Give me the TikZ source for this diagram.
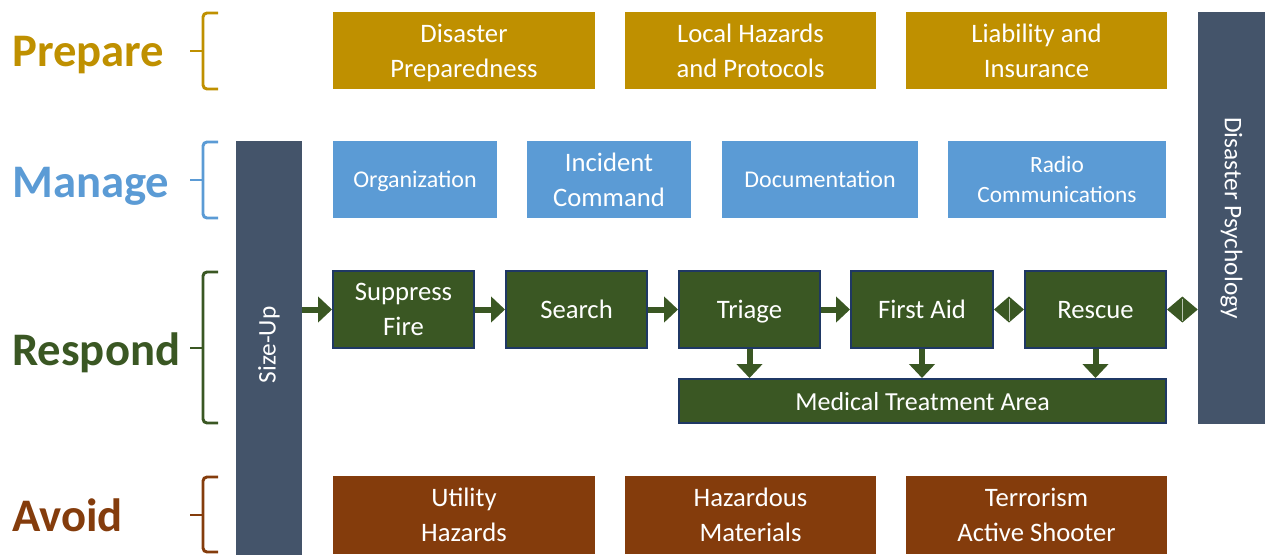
\documentclass[tikz,border=0pt]{standalone}
\usepackage{fontspec}
\setmainfont{Carlito}
\usetikzlibrary{arrows.meta,calc}
\definecolor{gold}{HTML}{BF9000}
\definecolor{skyb}{HTML}{5B9BD5}
\definecolor{dgreen}{HTML}{3A5723}
\definecolor{navyb}{HTML}{1F3864}
\definecolor{slate}{HTML}{44546A}
\definecolor{rust}{HTML}{843C0C}
\tikzset{
  box/.style 2 args={draw=none, text=white, align=center, inner sep=0pt,
    minimum width=#1*0.75pt, minimum height=#2*0.75pt, text depth=0pt,
    font=\fontsize{20}{26}\selectfont},
  gbox/.style 2 args={box={#1}{#2}, fill=dgreen, draw=navyb, line width=1.5pt},
  bar/.style 2 args={box={#1}{#2}, fill=slate, font=\fontsize{19}{24}\selectfont},
  lbl/.style={anchor=west, font=\fontsize{35}{40}\selectfont\bfseries, inner sep=0pt},
  brace/.style={line width=2.2pt, rounded corners=3pt},
  barrow/.style={draw=dgreen, line width=4.5pt,
    -{Triangle[length=10.5pt,width=19pt]}},
  dmd/.style={fill=dgreen},
  seam/.style={draw=white!65!dgreen, line width=0.5pt}
}
\begin{document}
\begin{tikzpicture}[x=0.75pt,y=-0.75pt]
\useasboundingbox (0,0) rectangle (1270,554);
\clip (0,0) rectangle (1270,554);

% Labels
\node[lbl, text=gold]  (lp) at (12,55.5)  {Prepare};
\node[lbl, text=skyb]  (lm) at (12,186) {Manage};
\node[lbl, text=dgreen](lr) at (12,353) {Respond};
\node[lbl, text=rust]  (la) at (12,515) {Avoid};

% Braces
\draw[brace, gold] (218,13) -- (203,13) -- (203,89) -- (218,89);
\draw[brace, gold] (203,51) -- (190,51);
\draw[brace, skyb] (218,142) -- (203,142) -- (203,218) -- (218,218);
\draw[brace, skyb] (203,180) -- (190,180);
\draw[brace, dgreen] (218,272) -- (203,272) -- (203,423) -- (218,423);
\draw[brace, dgreen] (203,348) -- (190,348);
\draw[brace, rust] (218,477) -- (203,477) -- (203,552) -- (218,552);
\draw[brace, rust] (203,515) -- (190,515);

% Side bars
\node[bar={66}{416}] (sz) at (269,349) {};
\node[rotate=90, text=white, font=\fontsize{19}{24}\selectfont] at (269,345) {Size-Up};
\node[bar={67}{412}] (dp) at (1231.5,218) {};
\node[rotate=-90, text=white, font=\fontsize{19}{24}\selectfont] at (1231.5,218) {Disaster Psychology};

% Prepare row
\node[box={262}{77}, fill=gold] (p1) at (464,50.5)    {Disaster\\Preparedness};
\node[box={251}{77}, fill=gold] (p2) at (750.5,50.5)  {Local Hazards\\and Protocols};
\node[box={261}{77}, fill=gold] (p3) at (1036.5,50.5) {Liability and\\Insurance};

% Manage row
\node[box={164}{77}, fill=skyb, font=\fontsize{18}{24}\selectfont] (m1) at (415,179.5)  {Organization};
\node[box={164}{77}, fill=skyb] (m2) at (609,179.5)  {Incident\\Command};
\node[box={196}{77}, fill=skyb, font=\fontsize{18}{24}\selectfont] (m3) at (820,179.5)  {Documentation};
\node[box={218}{77}, fill=skyb, font=\fontsize{17.5}{22}\selectfont] (m4) at (1057,179.5) {Radio\\Communications};

% Respond row
\node[gbox={141}{77}] (sf) at (403.5,309.5) {Suppress\\Fire};
\node[gbox={141}{77}] (se) at (576.5,309.5) {Search};
\node[gbox={141}{77}] (tr) at (749.5,309.5) {Triage};
\node[gbox={142}{77}] (fa) at (922,309.5)   {First Aid};
\node[gbox={141}{77}] (rs) at (1095.5,309.5){Rescue};
\node[gbox={487}{44}, font=\fontsize{19.5}{24}\selectfont] (mta) at (922.5,401) {Medical Treatment Area};

% Arrows
\draw[barrow] (sz.east |- sf.west) -- (sf.west);
\draw[barrow] (sf.east) -- (se.west);
\draw[barrow] (se.east) -- (tr.west);
\draw[barrow] (tr.east) -- (fa.west);
\draw[barrow] (tr.south) -- (tr.south |- mta.north);
\draw[barrow] (fa.south) -- (fa.south |- mta.north);
\draw[barrow] (rs.south) -- (rs.south |- mta.north);

% Diamond connectors
\coordinate (d1) at ($(fa.east)!0.5!(rs.west)$);
\fill[dmd] (fa.east) -- ($(d1)+(0,-13)$) -- (rs.west) -- ($(d1)+(0,13)$) -- cycle;
\draw[seam] ($(d1)+(0,-11)$) -- ($(d1)+(0,11)$);
\coordinate (d2e) at (dp.west |- rs.east);
\coordinate (d2) at ($(rs.east)!0.5!(d2e)$);
\fill[dmd] (rs.east) -- ($(d2)+(0,-13)$) -- (d2e) -- ($(d2)+(0,13)$) -- cycle;
\draw[seam] ($(d2)+(0,-11)$) -- ($(d2)+(0,11)$);

% Avoid row
\node[box={262}{78}, fill=rust] (a1) at (464,515)    {Utility\\Hazards};
\node[box={251}{78}, fill=rust] (a2) at (750.5,515)  {Hazardous\\Materials};
\node[box={261}{78}, fill=rust] (a3) at (1036.5,515) {Terrorism\\Active Shooter};
\end{tikzpicture}
\end{document}
